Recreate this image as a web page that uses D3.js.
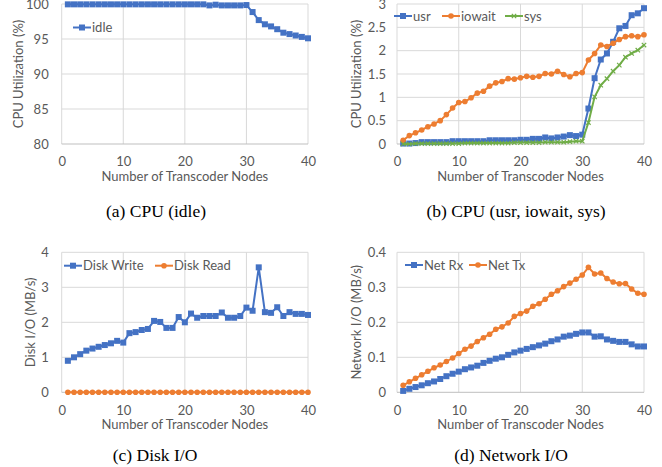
<!DOCTYPE html>
<html>
<head>
<meta charset="utf-8">
<script src="https://cdn.jsdelivr.net/npm/d3@7"></script>
<style>
body { margin: 0; background: #fff; }
text { font-family: Lato, "Open Sans", sans-serif; fill: #595959; }
.cap { font-family: "Liberation Serif", "Times New Roman", serif; fill: #000; }
</style>
</head>
<body>
<svg id="fig" width="662" height="467"></svg>
<script>
// x values: number of transcoder nodes
var nodes = [1, 2, 3, 4, 5, 6, 7, 8, 9, 10, 11, 12, 13, 14, 15, 16, 17, 18, 19, 20,
    21, 22, 23, 24, 25, 26, 27, 28, 29, 30, 31, 32, 33, 34, 35, 36, 37, 38, 39, 40];
var xTicks = [0, 10, 20, 30, 40];

// (a) CPU idle
var idle = [99.95, 99.95, 99.95, 99.95, 99.95, 99.95, 99.95, 99.95, 99.95, 99.95,
    99.95, 99.95, 99.95, 99.95, 99.95, 99.95, 99.95, 99.95, 99.95, 99.95,
    99.95, 99.95, 99.95, 99.8, 99.9, 99.8, 99.8, 99.8, 99.8, 99.85,
    98.85, 97.7, 97.1, 96.8, 96.4, 95.9, 95.7, 95.5, 95.3, 95.1];
var idleTicks = [80, 85, 90, 95, 100];

// (b) CPU usr, iowait, sys
var usr = [0.01, 0.01, 0.02, 0.04, 0.04, 0.04, 0.04, 0.04, 0.06, 0.06,
    0.06, 0.06, 0.06, 0.06, 0.08, 0.08, 0.08, 0.08, 0.08, 0.09,
    0.09, 0.11, 0.11, 0.14, 0.12, 0.14, 0.16, 0.19, 0.17, 0.2,
    0.76, 1.41, 1.81, 1.94, 2.19, 2.48, 2.53, 2.76, 2.8, 2.91];
var iowait = [0.08, 0.18, 0.24, 0.3, 0.37, 0.43, 0.5, 0.63, 0.77, 0.89,
    0.91, 0.99, 1.09, 1.13, 1.24, 1.31, 1.34, 1.4, 1.39, 1.42,
    1.45, 1.43, 1.45, 1.51, 1.5, 1.56, 1.49, 1.44, 1.51, 1.53,
    1.8, 1.94, 2.12, 2.09, 2.16, 2.24, 2.3, 2.32, 2.3, 2.34];
var sys = [0.0, 0.0, 0.01, 0.01, 0.01, 0.01, 0.01, 0.01, 0.01, 0.01,
    0.02, 0.02, 0.02, 0.02, 0.02, 0.02, 0.02, 0.02, 0.03, 0.03,
    0.03, 0.03, 0.03, 0.04, 0.04, 0.04, 0.04, 0.05, 0.06, 0.06,
    0.46, 1.01, 1.26, 1.4, 1.56, 1.69, 1.86, 1.94, 2.01, 2.12];
var cpuTicks = [0, 0.5, 1, 1.5, 2, 2.5, 3];

// (c) Disk I/O
var diskWrite = [0.9, 1.0, 1.09, 1.19, 1.25, 1.3, 1.35, 1.4, 1.47, 1.42,
    1.69, 1.72, 1.78, 1.81, 2.04, 2.01, 1.84, 1.84, 2.15, 2.0,
    2.25, 2.13, 2.18, 2.18, 2.18, 2.28, 2.13, 2.13, 2.18, 2.42,
    2.33, 3.57, 2.29, 2.27, 2.43, 2.18, 2.29, 2.24, 2.24, 2.21];
var diskRead = [0, 0, 0, 0, 0, 0, 0, 0, 0, 0, 0, 0, 0, 0, 0, 0, 0, 0, 0, 0,
    0, 0, 0, 0, 0, 0, 0, 0, 0, 0, 0, 0, 0, 0, 0, 0, 0, 0, 0, 0];
var diskTicks = [0, 1, 2, 3, 4];

// (d) Network I/O
var netRx = [0.004, 0.01, 0.015, 0.02, 0.026, 0.031, 0.038, 0.046, 0.053, 0.059,
    0.066, 0.071, 0.076, 0.084, 0.09, 0.096, 0.1, 0.107, 0.114, 0.119,
    0.124, 0.129, 0.134, 0.139, 0.146, 0.151, 0.159, 0.162, 0.167, 0.171,
    0.171, 0.159, 0.16, 0.151, 0.147, 0.144, 0.144, 0.137, 0.131, 0.131];
var netTx = [0.02, 0.03, 0.04, 0.05, 0.06, 0.07, 0.078, 0.088, 0.098, 0.111,
    0.123, 0.132, 0.145, 0.156, 0.166, 0.18, 0.187, 0.198, 0.217, 0.225,
    0.232, 0.246, 0.253, 0.266, 0.28, 0.29, 0.302, 0.312, 0.323, 0.335,
    0.357, 0.338, 0.341, 0.325, 0.315, 0.31, 0.311, 0.295, 0.283, 0.28];
var netTicks = [0, 0.1, 0.2, 0.3, 0.4];

var BLUE = "#4472C4", ORANGE = "#ED7D31", GREEN = "#70AD47";

var svg = d3.select("#fig");

function drawMarker(g, type, color) {
    if (type == "square") {
        g.append("rect").attr("x", -3).attr("y", -3).attr("width", 6).attr("height", 6)
            .attr("fill", color);
    } else if (type == "circle") {
        g.append("circle").attr("r", 2.8).attr("fill", color);
    } else {
        g.append("path").attr("d", "M-2.2,-2.2L2.2,2.2M-2.2,2.2L2.2,-2.2")
            .attr("stroke", color).attr("stroke-width", 1.2).attr("fill", "none");
    }
}

function drawPanel(p) {
    var g = svg.append("g");
    var x = d3.scaleLinear().domain([0, 40]).range([p.left, p.right]);
    var y = d3.scaleLinear().domain(d3.extent(p.yTicks)).range([p.bottom, p.top]);

    // gridlines
    g.append("g").selectAll("line").data(p.yTicks.slice(1)).enter().append("line")
        .attr("x1", p.left).attr("x2", p.right)
        .attr("y1", (d) => y(d)).attr("y2", (d) => y(d))
        .attr("stroke", "#d9d9d9").attr("stroke-width", 1);
    g.append("g").selectAll("line").data(xTicks).enter().append("line")
        .attr("x1", (d) => x(d)).attr("x2", (d) => x(d))
        .attr("y1", p.top).attr("y2", p.bottom)
        .attr("stroke", "#d9d9d9").attr("stroke-width", 1);
    g.append("line").attr("x1", p.left).attr("x2", p.right)
        .attr("y1", p.bottom).attr("y2", p.bottom)
        .attr("stroke", "#bfbfbf").attr("stroke-width", 1);

    // axes (labels only)
    var xAxis = d3.axisBottom(x).tickValues(xTicks).tickSize(0).tickPadding(13);
    var gx = g.append("g").attr("transform", "translate(0," + p.bottom + ")").call(xAxis);
    var yAxis = d3.axisLeft(y).tickValues(p.yTicks).tickSize(0).tickPadding(p.yPad)
        .tickFormat((d) => String(d));
    var gy = g.append("g").attr("transform", "translate(" + p.left + ",0)").call(yAxis);
    [gx, gy].forEach(function (a) {
        a.select(".domain").remove();
        a.selectAll("text").style("font-family", null).attr("font-size", 13).attr("fill", "#595959");
    });

    // axis titles
    g.append("text").attr("x", (p.left + p.right) / 2).attr("y", p.bottom + 37)
        .attr("text-anchor", "middle").attr("font-size", 13)
        .text("Number of Transcoder Nodes");
    g.append("text")
        .attr("transform", "translate(" + p.titleX + "," + (p.top + p.bottom) / 2 + ") rotate(-90)")
        .attr("text-anchor", "middle").attr("dy", "0.35em").attr("font-size", 13)
        .text(p.yTitle);

    // series
    p.series.forEach(function (s) {
        var pts = nodes.map((n, i) => [n, s.values[i]]);
        var line = d3.line().x((d) => x(d[0])).y((d) => y(d[1]));
        g.append("path").datum(pts).attr("d", line)
            .attr("fill", "none").attr("stroke", s.color).attr("stroke-width", 2)
            .attr("stroke-linejoin", "round");
        g.append("g").selectAll("g").data(pts).enter().append("g")
            .attr("transform", (d) => "translate(" + x(d[0]) + "," + y(d[1]) + ")")
            .each(function () { drawMarker(d3.select(this), s.marker, s.color); });

        // legend entry
        var lg = g.append("g").attr("transform", "translate(" + s.lx + "," + s.ly + ")");
        lg.append("line").attr("x1", 0).attr("x2", 18).attr("y1", 0).attr("y2", 0)
            .attr("stroke", s.color).attr("stroke-width", 2);
        var mk = lg.append("g").attr("transform", "translate(9,0)");
        drawMarker(mk, s.marker, s.color);
        lg.append("text").attr("x", 19).attr("dy", "0.35em").attr("font-size", 13).text(s.name);
    });

    // caption
    svg.append("text").attr("class", "cap").attr("x", p.capX).attr("y", p.capY)
        .attr("text-anchor", "middle").attr("font-size", 17.5).text(p.caption);
}

drawPanel({
    left: 61.7, right: 308, top: 4, bottom: 144, yTicks: idleTicks, yPad: 13,
    yTitle: "CPU Utilization (%)", titleX: 18,
    caption: "(a) CPU (idle)", capX: 156, capY: 217,
    series: [{ name: "idle", values: idle, color: BLUE, marker: "square", lx: 73, ly: 27.5 }]
});
drawPanel({
    left: 397, right: 644, top: 4, bottom: 144, yTicks: cpuTicks, yPad: 11,
    yTitle: "CPU Utilization (%)", titleX: 356,
    caption: "(b) CPU (usr, iowait, sys)", capX: 516, capY: 217,
    series: [
        { name: "usr", values: usr, color: BLUE, marker: "square", lx: 394, ly: 16 },
        { name: "iowait", values: iowait, color: ORANGE, marker: "circle", lx: 442, ly: 16 },
        { name: "sys", values: sys, color: GREEN, marker: "x", lx: 505, ly: 16 }
    ]
});
drawPanel({
    left: 61.7, right: 308, top: 252.3, bottom: 392.3, yTicks: diskTicks, yPad: 13,
    yTitle: "Disk I/O (MB/s)", titleX: 30,
    caption: "(c) Disk I/O", capX: 155, capY: 461,
    series: [
        { name: "Disk Write", values: diskWrite, color: BLUE, marker: "square", lx: 64, ly: 265.7 },
        { name: "Disk Read", values: diskRead, color: ORANGE, marker: "circle", lx: 155, ly: 265.7 }
    ]
});
drawPanel({
    left: 397, right: 644, top: 252.3, bottom: 392.3, yTicks: netTicks, yPad: 11,
    yTitle: "Network I/O (MB/s)", titleX: 356,
    caption: "(d) Network I/O", capX: 511, capY: 461,
    series: [
        { name: "Net Rx", values: netRx, color: BLUE, marker: "square", lx: 405, ly: 265 },
        { name: "Net Tx", values: netTx, color: ORANGE, marker: "circle", lx: 469, ly: 265 }
    ]
});
</script>
</body>
</html>
